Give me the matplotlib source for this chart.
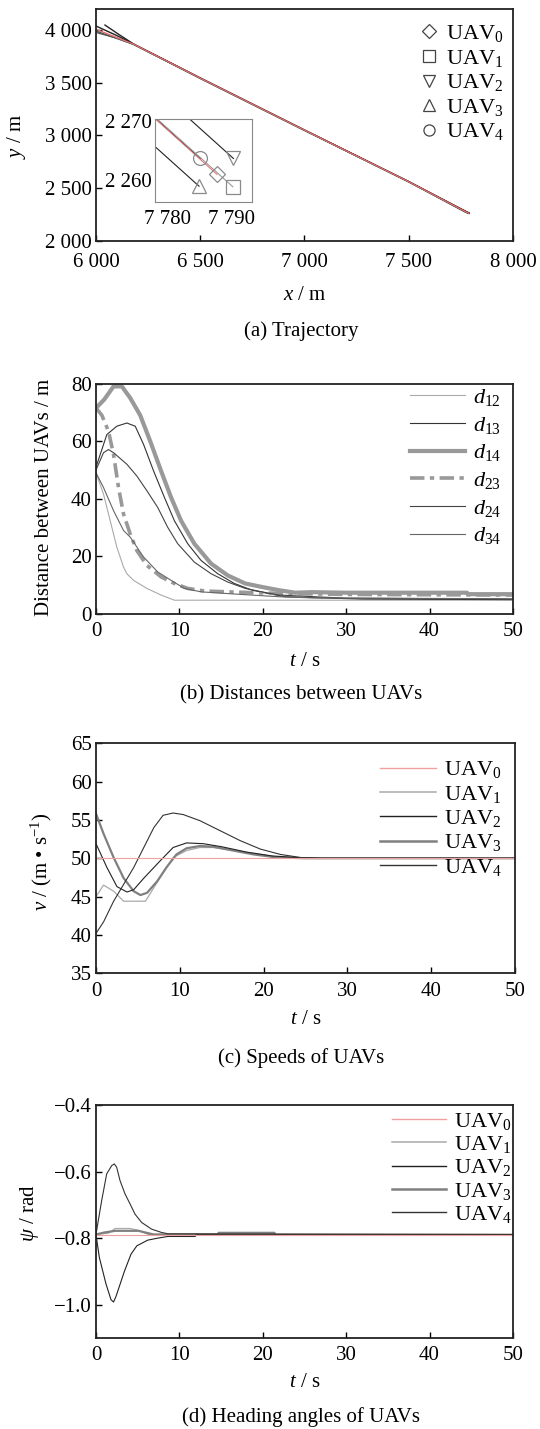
import matplotlib
matplotlib.use("Agg")
import matplotlib.pyplot as plt
from matplotlib.ticker import FuncFormatter, MultipleLocator

plt.rcParams['font.family'] = ['Liberation Serif', 'DejaVu Serif']
plt.rcParams['mathtext.fontset'] = 'custom'
plt.rcParams['mathtext.rm'] = 'Liberation Serif'
plt.rcParams['mathtext.it'] = 'Liberation Serif:italic'
plt.rcParams['mathtext.bf'] = 'Liberation Serif:bold'
plt.rcParams['axes.unicode_minus'] = True

FS = 15     # tick labels
LFS = 15    # axis labels / captions
GFS = 16    # legend entries

# ---------------- data ----------------
uav_names = [r'$\mathrm{UAV}_0$', r'$\mathrm{UAV}_1$', r'$\mathrm{UAV}_2$',
             r'$\mathrm{UAV}_3$', r'$\mathrm{UAV}_4$']

# (a) trajectories, waypoints (x, y)
traj0_x = [6000, 6180, 6500, 7000, 7500, 7767.6, 7787.7]
traj0_y = [4010, 3868, 3545, 3050, 2560, 2280.5, 2260.9]
traj1_x = [6006, 6100, 6180, 6500, 7000, 7500, 7770.1, 7790.2]
traj1_y = [3977, 3925, 3866, 3543, 3049, 2559, 2278.3, 2258.8]
traj2_x = [6043, 6110, 6180, 6500, 7000, 7500, 7770.3, 7790.3]
traj2_y = [4050, 3960, 3870, 3547, 3052, 2562, 2283.1, 2263.6]
traj3_x = [6000, 6090, 6180, 6500, 7000, 7500, 7764.9, 7784.9]
traj3_y = [3993, 3930, 3867, 3544, 3049, 2560, 2278.4, 2258.9]
traj4_x = [6000, 6100, 6180, 6500, 7000, 7500, 7765.1, 7785.1]
traj4_y = [4041, 3950, 3869, 3546, 3051, 2561, 2283.1, 2263.6]
markers = ['D', 's', 'v', '^', 'o']

# (b) distances
t12 = [0, 0.9, 1.7, 2.5, 3.3, 3.7, 4.5, 6.1, 7.8, 9.4, 50]
d12 = [49, 41.6, 32.4, 23.2, 16.3, 14.0, 11.7, 8.9, 6.6, 4.8, 4.8]
t13 = [0, 1.3, 2.5, 3.7, 4.7, 5.7, 6.9, 8.2, 9.4, 11, 12.6, 14.6, 16.6, 18.7, 20.7, 22.7, 27, 32, 50]
d13 = [51, 62.3, 65.2, 66.3, 65.2, 58.9, 49.7, 40.5, 32.4, 24.4, 18.6, 14.0, 10.6, 8.3, 7.1, 6.0, 5.6, 5.2, 5.0]
t14 = [0, 1.0, 2.1, 3.1, 4.1, 5.3, 6.5, 7.8, 9.0, 10.2, 11.8, 13.8, 15.8, 17.9, 19.9, 21.9, 23.9, 25.9, 30, 44.5, 44.6, 50]
d14 = [71.5, 74.5, 79, 79, 75, 69, 60, 49.7, 40.5, 32.4, 24.4, 17.5, 13.4, 10.6, 9.4, 8.3, 7.4, 7.6, 7.4, 7.4, 6.9, 6.9]
t23 = [0, 0.7, 1.5, 2.1, 2.7, 3.3, 4.1, 4.9, 6.1, 7.8, 9.4, 11, 13, 15.8, 20, 30, 50]
d23 = [71.5, 69, 63.4, 55.4, 43.9, 34.7, 27.8, 22.0, 16.9, 12.9, 10.6, 8.9, 8.0, 7.7, 7.3, 6.8, 6.6]
t24 = [0, 0.9, 1.5, 2.1, 3.7, 4.9, 6.1, 7.4, 8.6, 9.8, 11.8, 13.8, 15.8, 17.9, 19.9, 21.9, 30, 50]
d24 = [50, 56, 57.1, 56, 52, 47.9, 42.8, 37, 30.1, 24.4, 18, 14, 11.1, 8.9, 7.7, 6.6, 5.5, 5.2]
t34 = [0, 0.9, 2.1, 3.3, 4.1, 5.7, 7.4, 9.0, 10.6, 12.6, 15.8, 22, 26, 50]
d34 = [49, 43.9, 35.9, 29, 26.7, 19.8, 14.6, 11.7, 8.9, 7.7, 7.1, 6.0, 5.6, 5.3]

# (c) speeds
tv0 = [0, 50]
v0 = [50, 50]
tv1 = [0, 0.9, 2.1, 3.3, 5.9, 7.6, 9.2, 10.8, 12.4, 14, 16.5, 19, 22, 25, 50]
v1 = [45, 46.5, 45.7, 44.4, 44.4, 47.4, 50.1, 51.0, 51.4, 51.4, 51.0, 50.6, 50.1, 50.0, 50.0]
tv2 = [0, 1.3, 2.5, 3.7, 4.5, 5.7, 7.6, 9.2, 10.8, 12.8, 15, 18, 21, 24, 27, 50]
v2 = [51.9, 48.8, 46.3, 45.6, 45.9, 47.4, 49.6, 51.4, 52.0, 51.9, 51.5, 50.8, 50.3, 50.1, 50.0, 50.0]
tv3 = [0, 0.9, 2.1, 3.3, 4.5, 5.3, 6.1, 7.3, 8.4, 9.6, 10.8, 12.4, 14, 16.4, 18.8, 21.6, 25, 50]
v3 = [55.8, 53.2, 50.1, 47.4, 45.7, 45.2, 45.5, 47.0, 48.8, 50.5, 51.3, 51.6, 51.5, 51.0, 50.5, 50.1, 50.0, 50.0]
tv4 = [0, 0.9, 2.1, 3.3, 4.5, 5.7, 6.9, 8.0, 9.2, 10.4, 12.4, 14.8, 17.2, 19.6, 22, 24.4, 27, 50]
v4 = [40.2, 41.7, 44.4, 46.6, 48.8, 51.4, 54.0, 55.6, 55.9, 55.7, 54.9, 53.6, 52.3, 51.2, 50.5, 50.1, 50.0, 50.0]

# (d) heading angles
tp0 = [0, 50]
p0 = [-0.79, -0.79]
tp1 = [0, 1.5, 2.3, 4.1, 5.0, 6.3, 50]
p1 = [-0.789, -0.785, -0.771, -0.771, -0.776, -0.789, -0.79]
tp2 = [0, 0.4, 1.2, 1.8, 2.1, 2.4, 3.4, 4.2, 4.9, 6.2, 7.4, 8.6, 11.9, 12.0, 50]
p2 = [-0.79, -0.858, -0.938, -0.985, -0.992, -0.975, -0.9, -0.848, -0.823, -0.806, -0.8, -0.795, -0.795, -0.79, -0.79]
tp3 = [0, 1.0, 2.3, 5.1, 6.9, 14.6, 14.7, 21.4, 21.5, 50]
p3 = [-0.789, -0.783, -0.778, -0.778, -0.789, -0.789, -0.784, -0.784, -0.79, -0.79]
tp4 = [0, 0.68, 1.28, 1.88, 2.2, 2.48, 2.88, 3.48, 4.08, 4.68, 5.48, 6.67, 7.87, 8.67, 50]
p4 = [-0.788, -0.687, -0.607, -0.582, -0.577, -0.587, -0.627, -0.667, -0.697, -0.728, -0.753, -0.773, -0.783, -0.787, -0.789]

# ---------------- styling ----------------
uav_colors = ['#f0a0a0', '#aaaaaa', '#222222', '#808080', '#333333']
uav_widths = [0.8, 0.9, 0.8, 1.6, 0.8]


def style_axes(ax, xpad=6):
    for s in ax.spines.values():
        s.set_linewidth(1.3)
        s.set_color('#222222')
    ax.tick_params(direction='in', length=4, width=1.0, labelsize=FS,
                   top=False, right=False)
    ax.tick_params(axis='x', pad=xpad)
    ax.tick_params(axis='y', pad=3)


def space_thousands(v, pos):
    return f'{int(round(v)):,}'.replace(',', ' ')


fig = plt.figure(figsize=(5.4, 14.29), dpi=100)

# ---------------- (a) trajectory ----------------
ax_a = fig.add_axes([0.1778, 0.8316, 0.772, 0.1619])
trajs = [(traj0_x, traj0_y), (traj1_x, traj1_y), (traj2_x, traj2_y),
         (traj3_x, traj3_y), (traj4_x, traj4_y)]
line_cols_a = ['#e07070', '#555555', '#222222', '#555555', '#222222']
for i in [1, 2, 3, 4, 0]:
    ax_a.plot(trajs[i][0], trajs[i][1], color=line_cols_a[i], lw=1.0)
for i in range(5):
    ax_a.plot([], [], linestyle='none', marker=markers[i], markersize=8 if i else 7,
              markerfacecolor='white', markeredgecolor='#444444', markeredgewidth=0.9,
              label=uav_names[i])
ax_a.set_xlim(6000, 8000)
ax_a.set_ylim(2000, 4200)
ax_a.xaxis.set_major_locator(MultipleLocator(500))
ax_a.yaxis.set_major_locator(MultipleLocator(500))
ax_a.xaxis.set_major_formatter(FuncFormatter(space_thousands))
ax_a.yaxis.set_major_formatter(FuncFormatter(space_thousands))
style_axes(ax_a, xpad=9)
ax_a.set_xlabel(r'$x$ / m', fontsize=LFS, va='center')
ax_a.xaxis.set_label_coords(0.5, -0.235)
ax_a.set_ylabel(r'$y$ / m', fontsize=LFS, va='center')
ax_a.yaxis.set_label_coords(-0.19, 0.45)
ax_a.legend(loc='upper left', bbox_to_anchor=(0.773, 0.94), frameon=False,
            fontsize=GFS, handlelength=1.0, handletextpad=0.25,
            borderpad=0, borderaxespad=0, labelspacing=0.16)

# inset
ax_in = fig.add_axes([0.287, 0.8586, 0.1796, 0.0581])
ax_in.plot(traj2_x, traj2_y, color='#222222', lw=0.8)
ax_in.plot(traj3_x, traj3_y, color='#222222', lw=0.8)
ax_in.plot(traj4_x, traj4_y, color='#222222', lw=0.8)
ax_in.plot(traj1_x, traj1_y, color='#999999', lw=0.8)
ax_in.plot(traj0_x[-2:], traj0_y[-2:], color='#e07070', lw=0.7)
for i in range(5):
    ax_in.plot(trajs[i][0][-1], trajs[i][1][-1], linestyle='none', marker=markers[i],
               markersize=8 if i == 0 else 10, markerfacecolor='none',
               markeredgecolor='#8a8a8a', markeredgewidth=0.9)
ax_in.set_xlim(7778.0, 7793.2)
ax_in.set_ylim(2256.2, 2270.3)
ax_in.set_xticks([7780, 7790])
ax_in.set_yticks([2260, 2270])
ax_in.xaxis.set_major_formatter(FuncFormatter(space_thousands))
ax_in.yaxis.set_major_formatter(FuncFormatter(space_thousands))
ax_in.tick_params(length=0, labelsize=FS)
ax_in.tick_params(axis='x', pad=6)
ax_in.tick_params(axis='y', pad=2)
for s in ax_in.spines.values():
    s.set_linewidth(0.8)
    s.set_color('#888888')

# ---------------- (b) distances ----------------
ax_b = fig.add_axes([0.1778, 0.5703, 0.772, 0.1613])
ax_b.plot(t12, d12, color='#aaaaaa', lw=0.8, label=r'$d_{12}$')
ax_b.plot(t13, d13, color='#333333', lw=0.8, label=r'$d_{13}$')
ax_b.plot(t14, d14, color='#999999', lw=3.0, label=r'$d_{14}$')
ax_b.plot(t23, d23, color='#999999', lw=2.6, dashes=(4, 1.5, 1.2, 1.5), label=r'$d_{23}$')
ax_b.plot(t24, d24, color='#444444', lw=0.8, label=r'$d_{24}$')
ax_b.plot(t34, d34, color='#666666', lw=0.8, label=r'$d_{34}$')
ax_b.set_xlim(0, 50)
ax_b.set_ylim(0, 80)
ax_b.xaxis.set_major_locator(MultipleLocator(10))
ax_b.yaxis.set_major_locator(MultipleLocator(20))
style_axes(ax_b)
ax_b.set_xlabel(r'$t$ / s', fontsize=LFS, va='center')
ax_b.xaxis.set_label_coords(0.5, -0.207)
ax_b.set_ylabel('Distance between UAVs / m', fontsize=LFS, va='center')
ax_b.yaxis.set_label_coords(-0.123, 0.505)
ax_b.legend(loc='upper left', bbox_to_anchor=(0.753, 0.985), frameon=False,
            fontsize=GFS, handlelength=2.48, handletextpad=0.36,
            borderpad=0, borderaxespad=0, labelspacing=0.3)

# ---------------- (c) speeds ----------------
ax_c = fig.add_axes([0.1778, 0.3189, 0.776, 0.1610])
vs = [(tv0, v0), (tv1, v1), (tv2, v2), (tv3, v3), (tv4, v4)]
for i in [1, 3, 2, 4, 0]:
    ax_c.plot(vs[i][0], vs[i][1], color=uav_colors[i], lw=uav_widths[i])
for i in range(5):
    ax_c.plot([], [], color=uav_colors[i], lw=uav_widths[i] + 0.2, label=uav_names[i])
ax_c.set_xlim(0, 50)
ax_c.set_ylim(35, 65)
ax_c.xaxis.set_major_locator(MultipleLocator(10))
ax_c.yaxis.set_major_locator(MultipleLocator(5))
style_axes(ax_c)
ax_c.set_xlabel(r'$t$ / s', fontsize=LFS, va='center')
ax_c.xaxis.set_label_coords(0.5, -0.203)
ax_c.set_ylabel(r'$v$ / (m • s$^{-1}$)', fontsize=LFS, va='center')
ax_c.yaxis.set_label_coords(-0.131, 0.485)
ax_c.legend(loc='upper left', bbox_to_anchor=(0.678, 0.93), frameon=False,
            fontsize=GFS, handlelength=2.5, handletextpad=0.36,
            borderpad=0, borderaxespad=0, labelspacing=0.15)

# ---------------- (d) heading angles ----------------
ax_d = fig.add_axes([0.1778, 0.0637, 0.772, 0.1630])
ps = [(tp0, p0), (tp1, p1), (tp2, p2), (tp3, p3), (tp4, p4)]
for i in [1, 3, 2, 4, 0]:
    ax_d.plot(ps[i][0], ps[i][1], color=uav_colors[i], lw=uav_widths[i])
for i in range(5):
    ax_d.plot([], [], color=uav_colors[i], lw=uav_widths[i] + 0.2, label=uav_names[i])
ax_d.set_xlim(0, 50)
ax_d.set_ylim(-1.1, -0.4)
ax_d.xaxis.set_major_locator(MultipleLocator(10))
ax_d.set_yticks([-1.0, -0.8, -0.6, -0.4])
ax_d.yaxis.set_major_formatter(FuncFormatter(lambda v, p: f'{v:.1f}'.replace('-', '\u2212')))
style_axes(ax_d)
ax_d.set_xlabel(r'$t$ / s', fontsize=LFS, va='center')
ax_d.xaxis.set_label_coords(0.5, -0.193)
ax_d.set_ylabel(r'$\psi$ / rad', fontsize=LFS, va='center')
ax_d.yaxis.set_label_coords(-0.16, 0.536)
ax_d.legend(loc='upper left', bbox_to_anchor=(0.711, 0.975), frameon=False,
            fontsize=GFS, handlelength=2.4, handletextpad=0.38,
            borderpad=0, borderaxespad=0, labelspacing=0.1)

# ---------------- captions ----------------
captions = ['(a) Trajectory', '(b) Distances between UAVs',
            '(c) Speeds of UAVs', '(d) Heading angles of UAVs']
cap_y = [0.7684, 0.5136, 0.2596, 0.0086]
for txt, yy in zip(captions, cap_y):
    fig.text(0.557, yy, txt, ha='center', va='center', fontsize=LFS)

fig.savefig('out.png', dpi=100, facecolor='white')
